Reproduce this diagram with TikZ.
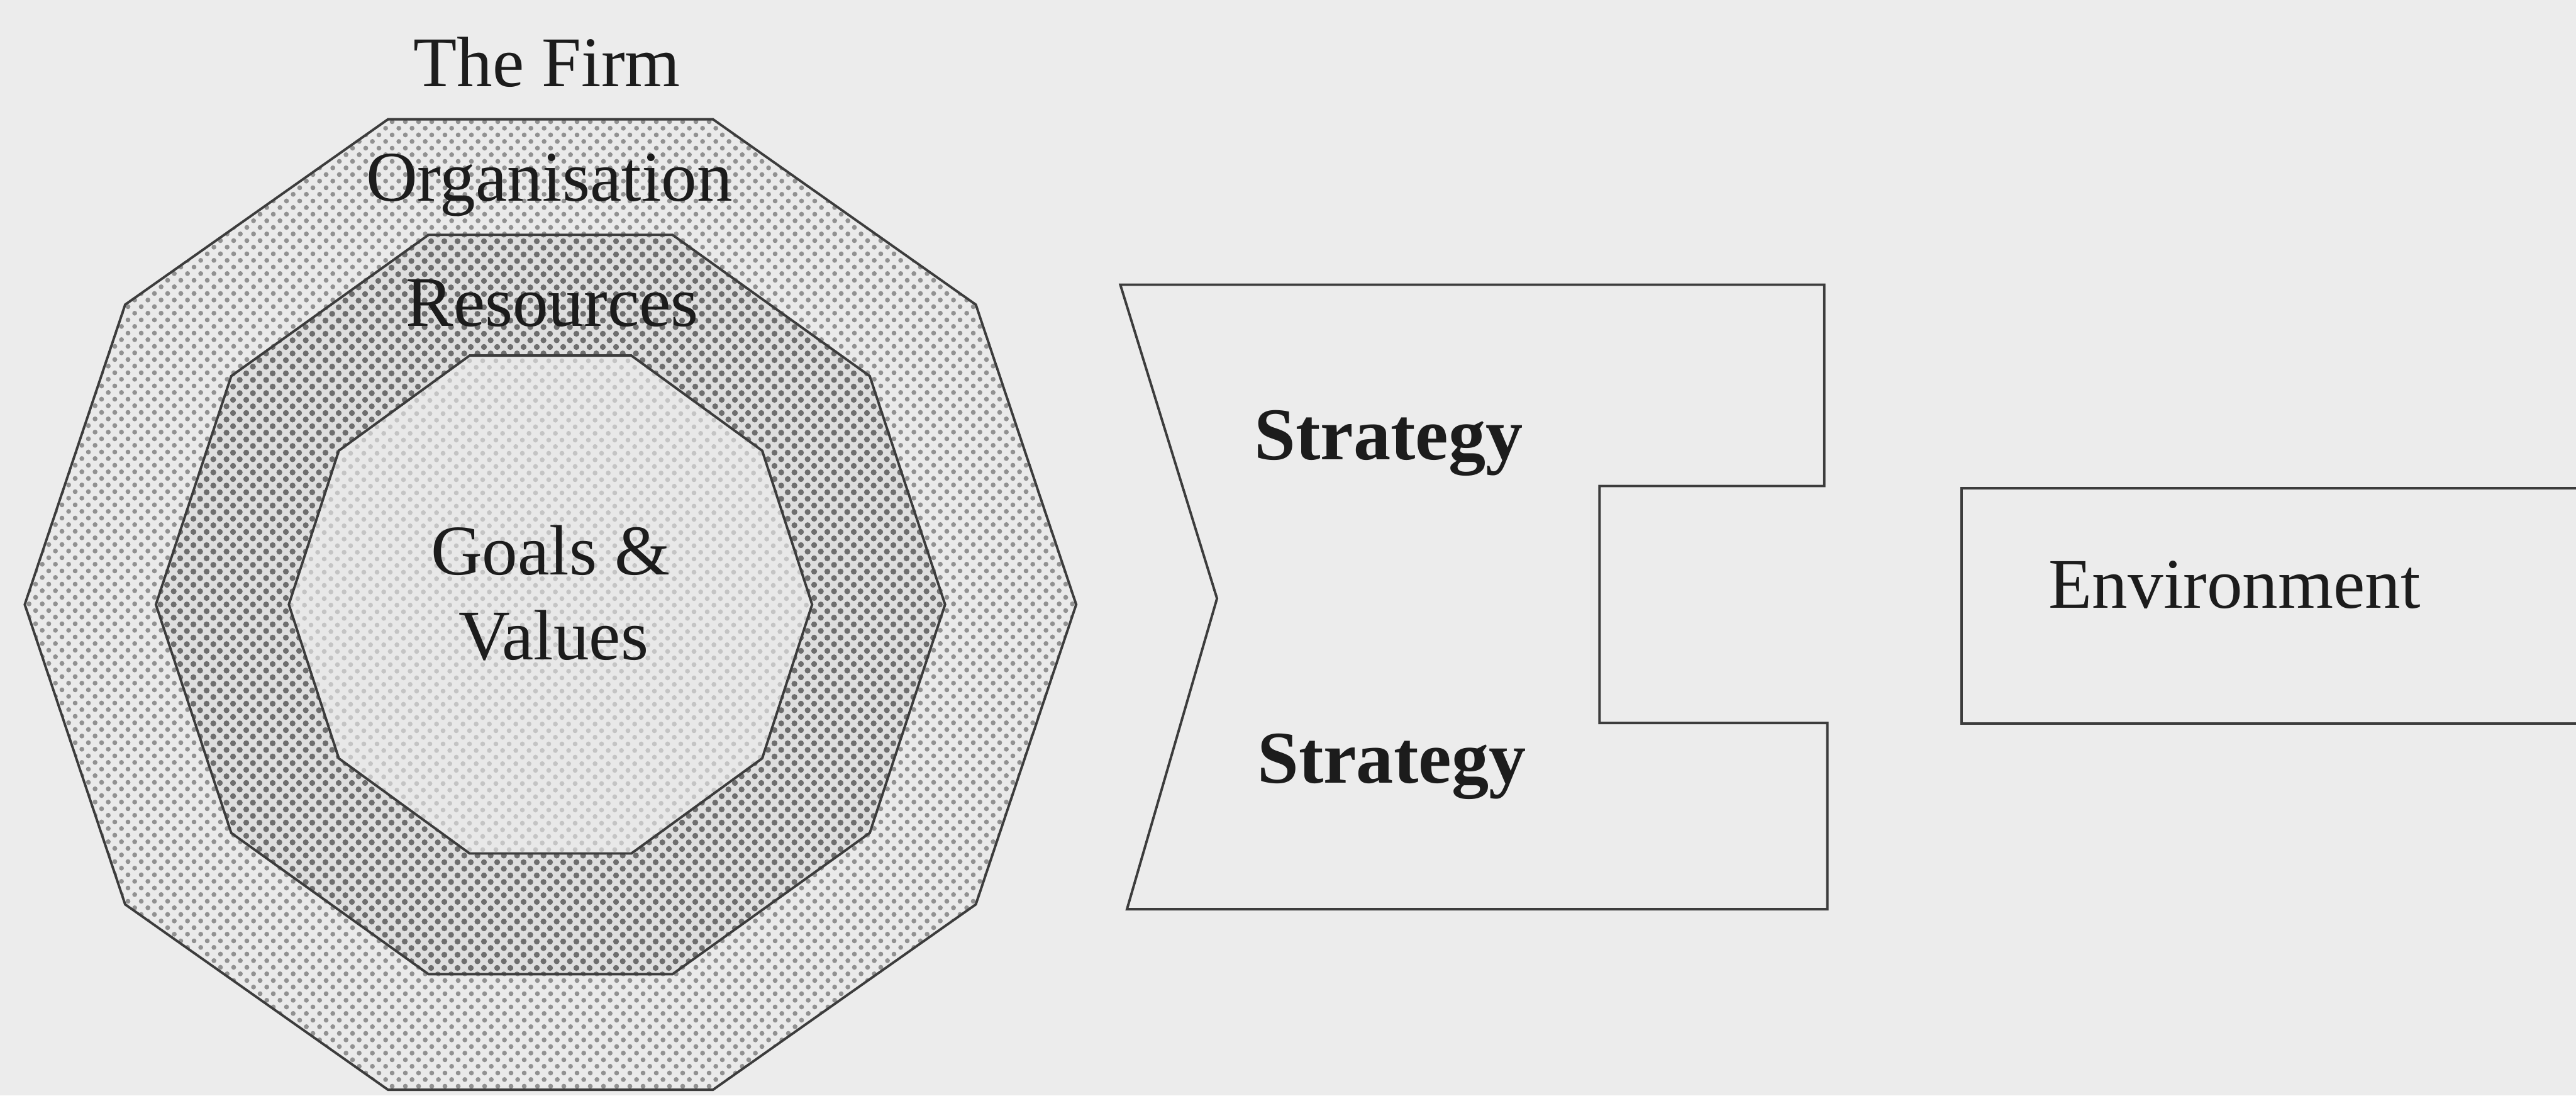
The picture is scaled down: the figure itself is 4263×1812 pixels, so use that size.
\documentclass[tikz,border=0pt]{standalone}
\usepackage{fontspec}
\setmainfont{Liberation Serif}
\usetikzlibrary{patterns.meta}
\definecolor{paper}{RGB}{236,236,236}
\definecolor{ink}{RGB}{60,60,60}
\definecolor{txt}{RGB}{28,28,28}
\definecolor{outerbase}{RGB}{234,234,234}
\definecolor{outerdot}{RGB}{145,145,145}
\definecolor{midbase}{RGB}{222,222,222}
\definecolor{middot}{RGB}{110,110,110}
\definecolor{innerbase}{RGB}{232,232,232}
\definecolor{innerdot}{RGB}{196,196,196}
\tikzdeclarepattern{
  name=halftone,
  type=uncolored,
  bounding box={(0pt,0pt) and (6.17pt,6.17pt)},
  tile size={(6.17pt,6.17pt)},
  code={
    \fill (1.54pt,1.54pt) circle [radius=1.15pt];
    \fill (4.63pt,4.63pt) circle [radius=1.15pt];
  }
}
\tikzdeclarepattern{
  name=halftonebold,
  type=uncolored,
  bounding box={(0pt,0pt) and (6.17pt,6.17pt)},
  tile size={(6.17pt,6.17pt)},
  code={
    \fill (1.54pt,1.54pt) circle [radius=1.4pt];
    \fill (4.63pt,4.63pt) circle [radius=1.4pt];
  }
}
\begin{document}
\begin{tikzpicture}[x=0.01cm, y=-0.01cm,
  ringpath/.style={draw=ink, line width=1.15pt},
  outline/.style={draw=ink, line width=1.15pt, line join=miter},
  txtlabel/.style={anchor=base, text=txt, inner sep=0pt,
    font=\fontsize{33.5}{40}\selectfont},
  boldlabel/.style={txtlabel, font=\fontsize{35}{42}\selectfont\bfseries}]
  \useasboundingbox (0,0) rectangle (4263,1812);
  \fill[paper] (0,0) rectangle (4263,1812);
  % The firm: three decagons
  \begin{scope}[shift={(911,1000)}]
    \path[ringpath, preaction={fill=outerbase}, pattern=halftone, pattern color=outerdot]
      (870,0) foreach \a in {36,72,...,324}{-- ({870*cos(\a)},{844*sin(\a)})} -- cycle;
    \path[ringpath, preaction={fill=midbase}, pattern=halftonebold, pattern color=middot]
      (653,0) foreach \a in {36,72,...,324}{-- ({653*cos(\a)},{643*sin(\a)})} -- cycle;
    \path[ringpath, preaction={fill=innerbase}, pattern=halftone, pattern color=innerdot]
      (433,0) foreach \a in {36,72,...,324}{-- ({433*cos(\a)},{433*sin(\a)})} -- cycle;
  \end{scope}
  \node[txtlabel] (firm) at (905,143) {The Firm};
  \node[txtlabel] (organisation) at (909,333) {Organisation};
  \node[txtlabel] (resources) at (914,540) {Resources};
  \node[txtlabel] (goals) at (911,951) {Goals \&};
  \node[txtlabel] (values) at (916,1091) {Values};
  % Strategy
  \draw[outline] (1854,471) -- (3019,471) -- (3019,804) -- (2647,804)
    -- (2647,1196) -- (3024,1196) -- (3024,1504) -- (1865,1504)
    -- (2014,990) -- cycle;
  \node[boldlabel] (strategytop) at (2298,760) {Strategy};
  \node[boldlabel] (strategybottom) at (2303,1295) {Strategy};
  % Environment
  \draw[outline] (4300,808) -- (3246,808) -- (3246,1197) -- (4300,1197);
  \node[txtlabel] (environment) at (3698,1006) {Environment};
\end{tikzpicture}
\end{document}
